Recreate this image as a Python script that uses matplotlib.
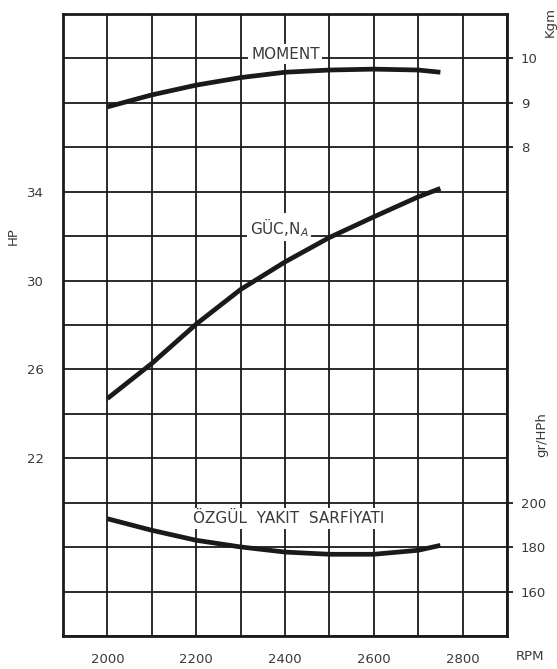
import numpy as np
import matplotlib.pyplot as plt
from matplotlib.ticker import FixedLocator, FuncFormatter

# values
rpm = [2000, 2100, 2200, 2300, 2400, 2500, 2600, 2700, 2750]
moment_kgm = [8.91, 9.18, 9.40, 9.57, 9.69, 9.74, 9.76, 9.74, 9.69]
guc_hp = [24.69, 26.27, 28.04, 29.6, 30.84, 31.94, 32.87, 33.77, 34.15]
yakit_gr = [192.8, 187.6, 183.1, 180.1, 177.8, 176.8, 176.8, 178.6, 180.8]

rpm_labels = [2000, 2200, 2400, 2600, 2800]
hp_labels = [22, 26, 30, 34]
kgm_labels = [8, 9, 10]
gr_labels = [160, 180, 200]

ink = "#1a1a1a"
txt = "#3a3a3a"


def sparse_fmt(show):
    return FuncFormatter(lambda v, p: f"{v:.0f}" if round(v) in show and abs(v - round(v)) < 1e-6 else "")


fig = plt.figure(figsize=(5.57, 6.69), dpi=100)
ax = fig.add_axes([0.1131, 0.0493, 0.7971, 0.9297])

ax.set_xlim(1900, 2900)
ax.set_ylim(14, 42)
ax.xaxis.set_major_locator(FixedLocator(np.arange(1900, 2901, 100)))
ax.yaxis.set_major_locator(FixedLocator(np.arange(14, 43, 2)))
ax.xaxis.set_major_formatter(sparse_fmt(rpm_labels))
ax.yaxis.set_major_formatter(sparse_fmt(hp_labels))
ax.grid(True, color=ink, lw=1.3)
ax.tick_params(axis="both", length=0, labelsize=9.5, colors=txt)
ax.tick_params(axis="x", pad=12)
ax.tick_params(axis="y", pad=14)
for s in ax.spines.values():
    s.set_linewidth(2.0)
    s.set_color(ink)

# moment, Kgm axis
ax_k = ax.twinx()
ax_k.set_ylim(-3, 11)
ax_k.yaxis.set_major_locator(FixedLocator(kgm_labels))
ax_k.tick_params(axis="y", length=4, width=1.3, colors=ink, labelcolor=txt, labelsize=9.5, pad=6)
ax_k.spines[:].set_visible(False)

# fuel consumption, gr/HPh axis
ax_g = ax.twinx()
ax_g.set_ylim(140, 420)
ax_g.yaxis.set_major_locator(FixedLocator(gr_labels))
ax_g.tick_params(axis="y", length=4, width=1.3, colors=ink, labelcolor=txt, labelsize=9.5, pad=6)
ax_g.spines[:].set_visible(False)

line_kw = dict(color=ink, lw=3.4, solid_capstyle="butt", solid_joinstyle="round")
ax.plot(rpm, guc_hp, zorder=5, **line_kw)
ax_k.plot(rpm, moment_kgm, **line_kw)
ax_g.plot(rpm, yakit_gr, **line_kw)

box = dict(facecolor="white", edgecolor="none", pad=2)
ax_k.text(2401, 10.1, "MOMENT", ha="center", va="center", fontsize=11, color=txt, bbox=box)
ax.text(2387, 32.4, "GÜC,N$_A$", ha="center", va="center", fontsize=11, color=txt, bbox=box)
ax_g.text(2409, 193, "ÖZGÜL  YAKIT  SARFİYATI", ha="center", va="center", fontsize=11, color=txt, bbox=box)

fig.text(0.024, 0.647, "HP", rotation=90, ha="center", va="center", fontsize=9.5, color=txt)
fig.text(0.987, 0.967, "Kgm", rotation=90, ha="center", va="center", fontsize=9.5, color=txt)
fig.text(0.973, 0.35, "gr/HPh", rotation=90, ha="center", va="center", fontsize=9.5, color=txt)
fig.text(0.951, 0.018, "RPM", ha="center", va="center", fontsize=9.5, color=txt)

fig.savefig("out.png", dpi=100)
